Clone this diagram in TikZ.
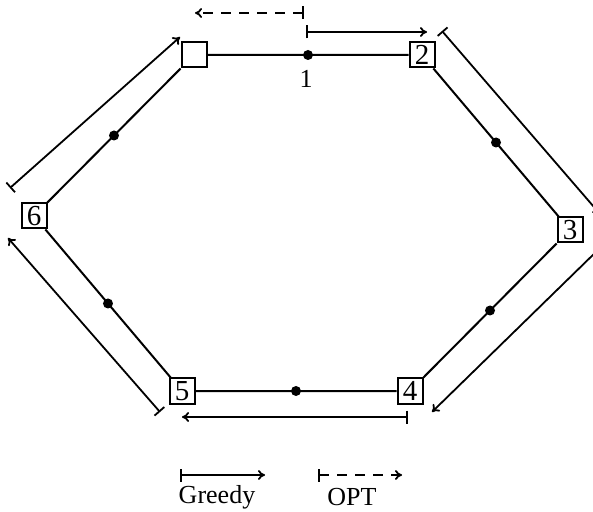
\documentclass[tikz,border=0pt]{standalone}
\usepackage{fontspec}
\setmainfont{Liberation Serif}
\usetikzlibrary{arrows.meta}

\begin{document}
\begin{tikzpicture}[x=0.5pt, y=-0.5pt, font=\fontsize{13}{15}\selectfont,
	vbox/.style={draw, line width=1pt, minimum size=12.5pt, inner sep=0pt, font=\fontsize{14.5}{15}\selectfont},
	dot/.style={circle, fill, inner sep=0pt, minimum size=5pt},
	greedy/.style={line width=0.9pt, {Bar[width=6.5pt]}-{To[length=3.5pt,width=5pt]}},
	opt/.style={greedy, dash pattern=on 5pt off 4pt}]
			
			\useasboundingbox (0,0) rectangle (593,512);
			
			\node[vbox] (v1) at (194,55) {};
			\node[vbox] (v2) at (422,55) {2};
			\node[vbox] (v3) at (570,230) {3};
			\node[vbox] (v4) at (410,391) {4};
			\node[vbox] (v5) at (182,391) {5};
			\node[vbox] (v6) at (34,216) {6};
			
			\draw[line width=1pt] (v1) -- node[dot] (d12) {} (v2)
				-- node[dot] (d23) {} (v3)
				-- node[dot] (d34) {} (v4)
				-- node[dot] (d45) {} (v5)
				-- node[dot] (d56) {} (v6)
				-- node[dot] (d61) {} (v1);
			\node (l1) at (306,79) {1};
			
			% ends of the tours
			\coordinate (A1) at (304,13);
			\coordinate (A2) at (195,13);
			\coordinate (B1) at (306,32);
			\coordinate (B2) at (427,32);
			\coordinate (C1) at (442,31);
			\coordinate (C2) at (600,214);
			\coordinate (D1) at (600,248);
			\coordinate (D2) at (432,412);
			\coordinate (E1) at (408,417);
			\coordinate (E2) at (182,417);
			\coordinate (F1) at (160,412);
			\coordinate (F2) at (8,238);
			\coordinate (G1) at (10,188);
			\coordinate (G2) at (180,37);
			
			\draw[opt] (A1) -- (A2);
			\draw[greedy] (B1) -- (B2);
			\draw[greedy] (C1) -- (C2);
			\draw[greedy] (D1) -- (D2);
			\draw[greedy] (E1) -- (E2);
			\draw[greedy] (F1) -- (F2);
			\draw[greedy] (G1) -- (G2);
			
			% legend
			\coordinate (K1) at (180,475);
			\coordinate (K2) at (265,475);
			\coordinate (M1) at (318,475);
			\coordinate (M2) at (402,475);
			\draw[greedy] (K1) -- (K2);
			\draw[opt] (M1) -- (M2);
			\node (tgreedy) at (217,497) {Greedy};
			\node (topt) at (352,497) {OPT};
			
		\end{tikzpicture}
\end{document}
